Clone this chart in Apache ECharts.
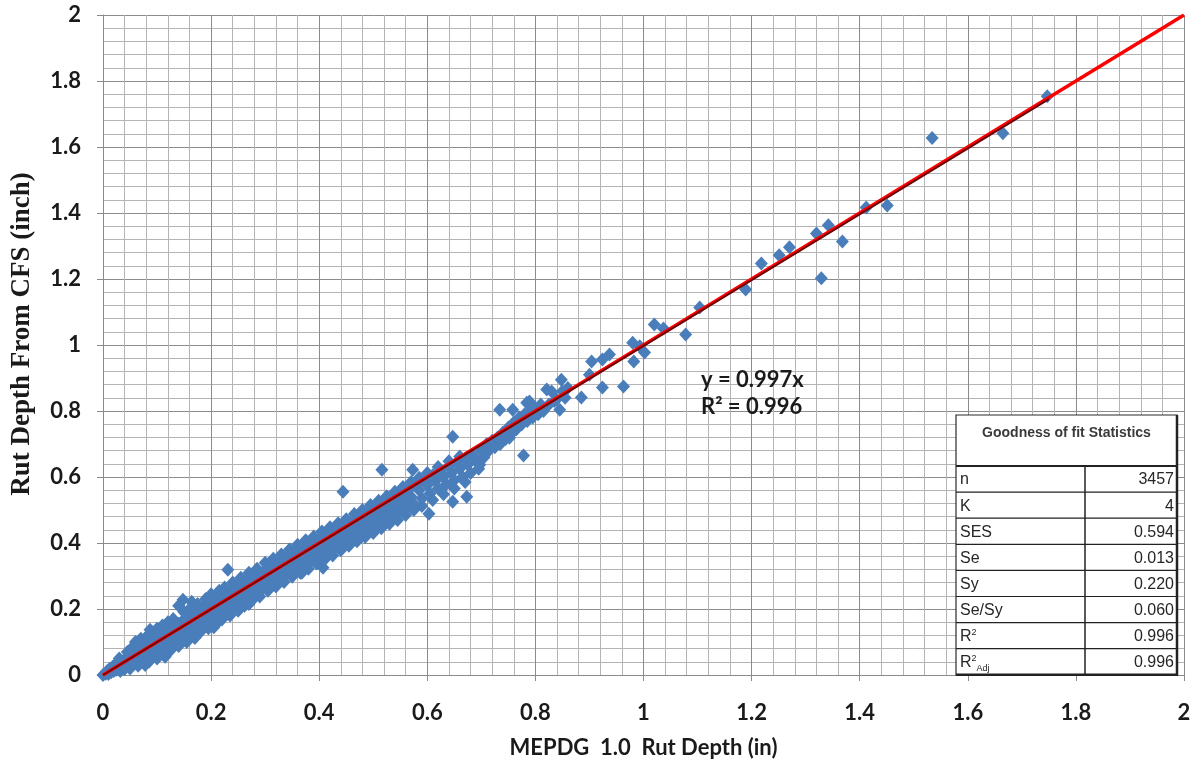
<!DOCTYPE html>
<html>
<head>
<meta charset="utf-8">
<title>MEPDG vs CFS Rut Depth</title>
<script src="https://cdn.jsdelivr.net/npm/echarts@6/dist/echarts.min.js"></script>
<style>
  html, body { margin: 0; padding: 0; background: #ffffff; }
  #chart { width: 1198px; height: 767px; }
</style>
</head>
<body>
<div id="chart"></div>
<script>
// Observed rut depth pairs [MEPDG 1.0 (in), CFS (in)], low range
const rutLow = [
  [0,0],[0.005,0.004],[0.008,0.012],[0.01,0.003],[0.012,0.018],[0.015,0.008],[0.018,0.025],[0.02,0.012],
  [0.022,0.03],[0.025,0.016],[0.028,0.035],[0.03,0.022],[0.032,0.012],[0.035,0.042],[0.038,0.028],[0.04,0.018],
  [0.042,0.05],[0.045,0.035],[0.048,0.025],[0.05,0.058],[0.052,0.04],[0.055,0.03],[0.058,0.065],[0.06,0.048],
  [0.062,0.035],[0.065,0.072],[0.068,0.055],[0.07,0.04],[0.072,0.08],[0.075,0.062],[0.078,0.045],[0.08,0.088],
  [0.082,0.07],[0.085,0.052],[0.088,0.095],[0.09,0.078],[0.092,0.06],[0.095,0.105],[0.098,0.085],[0.1,0.065],
  [0.102,0.115],[0.105,0.092],[0.108,0.072],[0.11,0.125],[0.112,0.1],[0.115,0.08],[0.118,0.132],[0.12,0.108],
  [0.122,0.088],[0.125,0.14],[0.128,0.115],[0.13,0.095],[0.132,0.148],[0.135,0.122],[0.138,0.1],[0.14,0.155],
  [0.142,0.13],[0.145,0.108],[0.148,0.165],[0.15,0.14],[0.152,0.115],[0.155,0.175],[0.158,0.15],[0.16,0.122],
  [0.162,0.18],[0.165,0.158],[0.168,0.13],[0.17,0.19],[0.172,0.165],[0.175,0.14],[0.178,0.198],[0.18,0.172],
  [0.182,0.148],[0.185,0.205],[0.188,0.18],[0.19,0.155],[0.192,0.212],[0.195,0.19],[0.198,0.16],[0.2,0.22],
  [0.202,0.198],[0.205,0.17],[0.208,0.228],[0.21,0.205],[0.212,0.178],[0.215,0.235],[0.218,0.212],[0.22,0.185],
  [0.222,0.242],[0.225,0.22],[0.228,0.192],[0.23,0.25],[0.232,0.228],[0.235,0.2],[0.238,0.258],[0.24,0.235],
  [0.242,0.21],[0.245,0.265],[0.248,0.242],[0.25,0.218],[0.252,0.272],[0.255,0.25],[0.258,0.225],[0.26,0.28],
  [0.262,0.258],[0.265,0.232],[0.268,0.288],[0.27,0.265],[0.272,0.24],[0.275,0.295],[0.278,0.272],[0.28,0.248],
  [0.282,0.3],[0.285,0.28],[0.288,0.255],[0.29,0.308],[0.292,0.288],[0.295,0.262],[0.298,0.315],[0.3,0.295],
  [0.3,0.27],
  [0.148,0.228],[0.164,0.222],[0.087,0.137],[0.078,0.03],[0.115,0.055],[0.185,0.143],[0.231,0.319],
  [0.14,0.21],[0.07,0.11],[0.06,0.1],[0.205,0.145],[0.25,0.195],[0.27,0.215]
];

// Scattered pairs along the edges of the low and middle band
const rutSpread = [
  [0.03,0.05],[0.045,0.07],[0.055,0.085],[0.065,0.095],[0.08,0.115],[0.09,0.125],[0.1,0.14],[0.11,0.15],
  [0.12,0.16],[0.13,0.17],[0.15,0.19],[0.16,0.2],[0.175,0.215],[0.19,0.23],[0.2,0.245],[0.215,0.255],
  [0.225,0.265],[0.24,0.28],[0.255,0.295],[0.27,0.31],[0.285,0.322],[0.3,0.34],[0.315,0.352],[0.33,0.365],
  [0.345,0.38],[0.36,0.395],[0.375,0.408],[0.39,0.42],[0.405,0.435],[0.42,0.448],[0.435,0.46],[0.45,0.472],
  [0.465,0.488],[0.48,0.5],[0.495,0.515],[0.51,0.528],[0.525,0.542],[0.54,0.555],[0.555,0.57],[0.57,0.585],
  [0.585,0.598],[0.6,0.612],[0.62,0.63],[0.64,0.648],[0.66,0.662],
  [0.05,0.02],[0.065,0.028],[0.085,0.04],[0.1,0.05],[0.11,0.065],[0.125,0.075],[0.14,0.088],[0.155,0.1],
  [0.17,0.112],[0.18,0.13],[0.195,0.142],[0.21,0.155],[0.22,0.168],[0.235,0.18],[0.25,0.2],[0.262,0.21],
  [0.275,0.225],[0.29,0.238],[0.305,0.255],[0.32,0.268],[0.335,0.282],[0.35,0.298],[0.365,0.31],[0.38,0.322],
  [0.395,0.338],[0.41,0.35],[0.425,0.362],[0.44,0.378],[0.455,0.392],[0.47,0.405],[0.485,0.418],[0.5,0.43],
  [0.515,0.445],[0.53,0.458],[0.545,0.47],[0.56,0.485],[0.575,0.5],[0.59,0.512],[0.61,0.53],[0.63,0.548],
  [0.65,0.565],[0.67,0.585]
];

// Observed rut depth pairs, middle range
const rutMid = [
  [0.305,0.325],[0.31,0.3],[0.312,0.28],[0.318,0.335],[0.32,0.31],[0.322,0.29],[0.328,0.345],[0.33,0.32],
  [0.332,0.298],[0.338,0.352],[0.34,0.33],[0.342,0.31],[0.348,0.362],[0.35,0.34],[0.352,0.318],[0.358,0.372],
  [0.36,0.348],[0.362,0.325],[0.368,0.38],[0.37,0.358],[0.372,0.335],[0.378,0.39],[0.38,0.365],[0.382,0.342],
  [0.388,0.398],[0.39,0.375],[0.392,0.352],[0.398,0.405],[0.4,0.385],[0.402,0.36],[0.408,0.415],[0.41,0.392],
  [0.412,0.37],[0.418,0.425],[0.42,0.4],[0.422,0.38],[0.428,0.432],[0.43,0.41],[0.432,0.388],[0.438,0.442],
  [0.44,0.42],[0.442,0.398],[0.448,0.45],[0.45,0.43],[0.452,0.405],[0.458,0.46],[0.46,0.438],[0.462,0.415],
  [0.468,0.47],[0.47,0.448],[0.472,0.425],[0.478,0.478],[0.48,0.458],[0.482,0.432],[0.488,0.488],[0.49,0.465],
  [0.492,0.44],[0.498,0.498],[0.5,0.475],[0.502,0.45],[0.508,0.505],[0.51,0.485],[0.512,0.46],[0.518,0.515],
  [0.52,0.495],[0.522,0.47],[0.528,0.525],[0.53,0.502],[0.532,0.48],[0.538,0.535],[0.54,0.512],[0.542,0.49],
  [0.548,0.545],[0.55,0.522],[0.552,0.5],[0.558,0.555],[0.56,0.53],[0.562,0.508],[0.568,0.565],[0.57,0.54],
  [0.575,0.518],[0.58,0.578],[0.585,0.56],[0.59,0.535],[0.595,0.59],[0.6,0.575],[0.605,0.55],[0.61,0.605],
  [0.615,0.588],[0.62,0.565],[0.625,0.62],[0.63,0.6],[0.635,0.578],[0.64,0.632],[0.645,0.612],[0.65,0.59],
  [0.655,0.645],[0.66,0.625],[0.665,0.6],[0.67,0.655],[0.675,0.638],[0.68,0.612],[0.685,0.665],[0.69,0.648],
  [0.695,0.625],[0.7,0.68],[0.705,0.66],
  [0.368,0.31],[0.407,0.325],[0.444,0.555],[0.516,0.622],[0.573,0.622],[0.603,0.489],[0.647,0.525],
  [0.673,0.54],[0.697,0.637],[0.647,0.722]
];

// Observed rut depth pairs, upper range
const rutHigh = [
  [0.71,0.7],[0.715,0.682],[0.72,0.71],[0.725,0.69],[0.73,0.72],[0.734,0.804],[0.735,0.7],[0.74,0.735],
  [0.745,0.715],[0.75,0.75],[0.752,0.719],[0.755,0.73],[0.758,0.804],[0.76,0.765],[0.765,0.745],[0.77,0.78],
  [0.775,0.76],[0.778,0.665],[0.78,0.79],[0.784,0.825],[0.785,0.77],[0.789,0.829],[0.79,0.8],[0.795,0.78],
  [0.8,0.81],[0.805,0.79],[0.81,0.82],[0.815,0.8],[0.821,0.865],[0.825,0.82],[0.83,0.859],[0.835,0.83],
  [0.839,0.835],[0.845,0.804],[0.848,0.895],[0.85,0.86],[0.855,0.84],[0.86,0.87],[0.885,0.841],[0.9,0.91],
  [0.904,0.95],[0.924,0.956],[0.924,0.871],[0.937,0.971],[0.963,0.874],[0.98,1.007],[0.982,0.95],[0.993,0.996],
  [1.002,0.977],[1.02,1.062],[1.037,1.05],[1.078,1.032],[1.104,1.114],[1.189,1.168],[1.218,1.247],[1.251,1.272],
  [1.27,1.296],[1.32,1.338],[1.329,1.202],[1.342,1.363],[1.368,1.314],[1.412,1.417],[1.451,1.423],[1.534,1.627],
  [1.665,1.642],[1.747,1.754]
];

// Regression through the origin and its fit statistics
const fitSlope = 0.997;
const fitR2 = 0.996;
const fitXMax = 1.75;
const equalityLine = [[0, 0], [2, 2]];

// Goodness-of-fit table
const statLabels = ['n', 'K', 'SES', 'Se', 'Sy', 'Se/Sy', 'R2', 'R2Adj'];
const statValues = ['3457', '4', '0.594', '0.013', '0.220', '0.060', '0.996', '0.996'];

const observed = rutLow.concat(rutSpread, rutMid, rutHigh);
const fitLine = [[0, 0], [fitXMax, +(fitSlope * fitXMax).toFixed(4)]];

const tickFont = 'Lato, "Open Sans", sans-serif';
const tableFont = '"Liberation Sans", Arial, sans-serif';
const TOP = 100;

// table geometry
const tbl = { x: 956, y: 415, w: 221, headH: 51, rowH: 26.1, split: 1085 };
const tableEls = [];
const bodyTop = tbl.y + tbl.headH;
const tblBottom = bodyTop + tbl.rowH * statLabels.length;
function seg(x1, y1, x2, y2, w) {
  tableEls.push({ type: 'line', z: TOP + 2, shape: { x1, y1, x2, y2 }, style: { stroke: '#222', lineWidth: w } });
}
tableEls.push({ type: 'rect', z: TOP, shape: { x: tbl.x, y: tbl.y, width: tbl.w, height: tblBottom - tbl.y },
  style: { fill: '#ffffff', stroke: '#2a2a2a', lineWidth: 1.2 } });
seg(tbl.x, bodyTop, tbl.x + tbl.w, bodyTop, 2);
seg(tbl.x + tbl.w, tbl.y, tbl.x + tbl.w, tblBottom + 1, 2.5);
seg(tbl.x, tblBottom, tbl.x + tbl.w + 1, tblBottom, 2.5);
seg(tbl.split, bodyTop, tbl.split, tblBottom, 1.5);
tableEls.push({ type: 'text', z: TOP + 3, x: tbl.x + tbl.w / 2, y: tbl.y + 18,
  style: { text: 'Goodness of fit Statistics', fill: '#3a3a3a', font: 'bold 14px ' + tableFont,
    align: 'center', verticalAlign: 'middle' } });
statLabels.forEach((lab, i) => {
  const cy = bodyTop + tbl.rowH * (i + 0.5);
  if (i > 0) seg(tbl.x, bodyTop + tbl.rowH * i, tbl.x + tbl.w, bodyTop + tbl.rowH * i, 1.2);
  let labelStyle;
  if (lab.indexOf('R2') === 0) {
    const sub = lab.slice(2);
    labelStyle = {
      text: '{r|R}{s|2}' + (sub ? '{d|' + sub + '}' : ''),
      rich: {
        r: { fontSize: 16, fontFamily: tableFont, fill: '#262626', lineHeight: 22, verticalAlign: 'middle' },
        s: { fontSize: 9, fontFamily: tableFont, fill: '#262626', lineHeight: 22, verticalAlign: 'top', padding: [2, 0, 0, 0] },
        d: { fontSize: 9, fontFamily: tableFont, fill: '#262626', lineHeight: 22, verticalAlign: 'bottom', padding: [0, 0, 1, 0] }
      },
      align: 'left', verticalAlign: 'middle'
    };
  } else {
    labelStyle = { text: lab, font: '16px ' + tableFont, fill: '#262626', align: 'left', verticalAlign: 'middle' };
  }
  tableEls.push({ type: 'text', z: TOP + 3, x: tbl.x + 4, y: cy + 1, style: labelStyle });
  tableEls.push({ type: 'text', z: TOP + 3, x: tbl.x + tbl.w - 3, y: cy + 1,
    style: { text: statValues[i], font: '16px ' + tableFont, fill: '#262626', align: 'right', verticalAlign: 'middle' } });
});

const chart = echarts.init(document.getElementById('chart'), null, { renderer: 'canvas' });

const axisCommon = {
  type: 'value',
  min: 0,
  max: 2,
  interval: 0.2,
  axisLine: { show: true, lineStyle: { color: '#8a8a8a', width: 1 } },
  axisTick: { show: true, length: 6, lineStyle: { color: '#8a8a8a' } },
  splitLine: { show: true, showMinLine: true, showMaxLine: true, lineStyle: { color: '#8c8c8c', width: 1 } },
  minorTick: { show: false, splitNumber: 5 },
  minorSplitLine: { show: true, lineStyle: { color: '#b4b4b4', width: 1 } },
  axisLabel: {
    fontFamily: tickFont, fontWeight: 'bold', fontSize: 22, color: '#1a1a1a',
    formatter: v => String(+v.toFixed(1))
  }
};

chart.setOption({
  backgroundColor: '#ffffff',
  animation: false,
  grid: { left: 103, right: 14, top: 15, bottom: 92, containLabel: false },
  xAxis: Object.assign({}, axisCommon, {
    name: 'MEPDG  1.0  Rut Depth (in)',
    nameLocation: 'middle',
    nameGap: 62,
    nameTextStyle: { fontFamily: tickFont, fontWeight: 'bold', fontSize: 22, color: '#1a1a1a' },
    axisLabel: Object.assign({}, axisCommon.axisLabel, { margin: 27 })
  }),
  yAxis: Object.assign({}, axisCommon, {
    axisLabel: Object.assign({}, axisCommon.axisLabel, { margin: 22 })
  }),
  graphic: [
    { type: 'text', z: TOP, x: 22, y: 334, rotation: Math.PI / 2,
      style: { text: 'Rut Depth From CFS (inch)', font: 'bold 27px "Liberation Serif", "Times New Roman", serif',
        fill: '#1a1a1a', align: 'center', verticalAlign: 'middle' } },
    { type: 'text', z: TOP, x: 701, y: 380,
      style: { text: 'y = ' + fitSlope + 'x', font: 'bold 22px ' + tickFont, fill: '#1a1a1a',
        align: 'left', verticalAlign: 'middle' } },
    { type: 'text', z: TOP, x: 701, y: 407,
      style: { text: 'R² = ' + fitR2.toFixed(3), font: 'bold 22px ' + tickFont, fill: '#1a1a1a',
        align: 'left', verticalAlign: 'middle' } },
    { type: 'group', z: TOP, children: tableEls }
  ],
  series: [
    {
      name: 'Observed',
      type: 'scatter',
      data: observed,
      symbol: 'diamond',
      symbolSize: [13, 14],
      itemStyle: { color: '#4a7ebb', opacity: 1 },
      z: 2
    },
    {
      name: 'Line of equality',
      type: 'line',
      data: equalityLine,
      symbol: 'none',
      lineStyle: { color: '#ff0000', width: 3.5 },
      z: 3
    },
    {
      name: 'Fit',
      type: 'line',
      data: fitLine,
      symbol: 'none',
      lineStyle: { color: '#6e0606', width: 2 },
      z: 4
    }
  ]
});
</script>
</body>
</html>
